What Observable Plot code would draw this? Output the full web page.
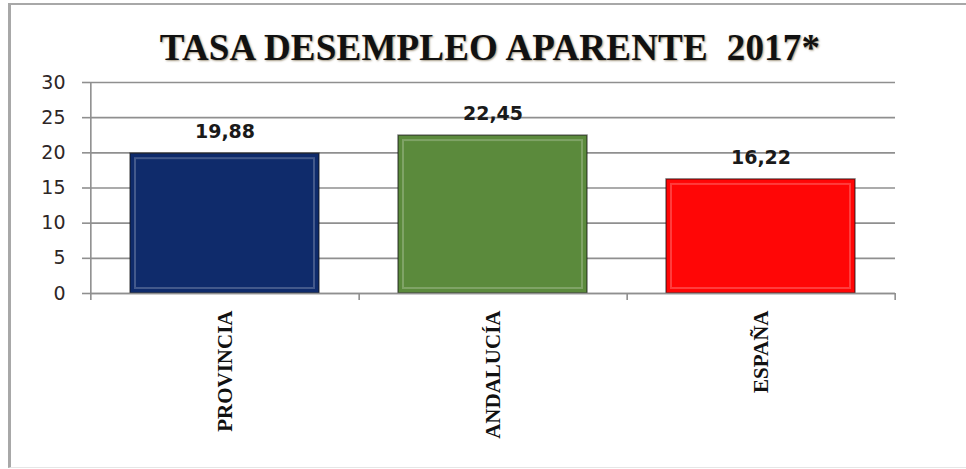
<!DOCTYPE html>
<html><head><meta charset="utf-8">
<script src="https://cdn.jsdelivr.net/npm/d3@7"></script>
<script src="https://cdn.jsdelivr.net/npm/@observablehq/plot@0.6"></script>
<style>
body{margin:0;background:#fff;overflow:hidden;}
#wrap{position:relative;width:966px;height:469px;overflow:hidden;}
#frame{position:absolute;left:8px;top:3px;width:970px;height:462px;border-left:3px solid #a8a8a8;border-top:2px solid #a8a8a8;border-bottom:1px solid #e6e6e6;box-sizing:content-box;}
#title{position:absolute;left:0;width:980px;top:26px;text-align:center;font-family:"Liberation Serif",serif;font-weight:bold;font-size:37px;letter-spacing:0.2px;color:#111;text-shadow:1px 1px 2px rgba(90,70,30,0.55);white-space:pre;}
svg{position:absolute;left:0;top:0;}
</style></head>
<body><div id="wrap"><div id="frame"></div><div id="title">TASA DESEMPLEO APARENTE  2017*</div></div>
<script>
const categories = ["PROVINCIA", "ANDALUCÍA", "ESPAÑA"];
const values = [19.88, 22.45, 16.22];
const barColors = ["#0f2b6b", "#5b8a3c", "#ff0606"];
const yTicks = [0, 5, 10, 15, 20, 25, 30];

const data = categories.map((c, i) => ({cat: c, v: values[i], col: barColors[i]}));
const fmt = v => v.toFixed(2).replace(".", ",");
const W = 966, ML = 90, MR = 71;
const step = (W - ML - MR) / categories.length;

const chart = Plot.plot({
  width: W, height: 469,
  marginLeft: ML, marginRight: MR, marginTop: 82, marginBottom: 176,
  style: {background: "transparent"},
  x: {type: "band", domain: categories, paddingInner: 0.295, paddingOuter: 0.147},
  y: {domain: [0, 30]},
  marks: [
    Plot.gridY(yTicks, {stroke: "#8f8f8f", strokeOpacity: 1, strokeWidth: 1.6}),
    Plot.axisY(yTicks, {tickSize: 8, tickPadding: 17, stroke: "#8f8f8f", strokeWidth: 1.6,
      fontSize: 19, fontFamily: "DejaVu Sans", fill: "#2e2626", label: null}),
    Plot.ruleX([0], {x: () => categories[0], dx: -step / 2, y1: 30, y2: 0, insetBottom: -7, stroke: "#8f8f8f", strokeWidth: 1.6}),
    Plot.ruleX(categories, {x: d => d, dx: step / 2, y1: 0, y2: 0, insetBottom: -7, stroke: "#8f8f8f", strokeWidth: 1.6}),
    Plot.barY(data, {x: "cat", y: "v", fill: "col", stroke: "#111", strokeOpacity: 0.55, strokeWidth: 1.5}),
    Plot.barY(data, {x: "cat", y: "v", fill: "none", stroke: "#fff", strokeOpacity: 0.22, strokeWidth: 2, inset: 5}),
    Plot.ruleY([0], {stroke: "#8f8f8f", strokeWidth: 1.6}),
    Plot.text(data, {x: "cat", y: "v", text: d => fmt(d.v), dy: -22, fontSize: 19, fontWeight: "bold",
      fontFamily: "DejaVu Sans", fill: "#1a1a1a"}),
    Plot.axisX(categories, {tickRotate: -90, tickSize: 0, tickPadding: 17, fontSize: 21, fontWeight: "bold",
      fontFamily: "Liberation Serif", fill: "#111", label: null})
  ]
});
document.getElementById("wrap").appendChild(chart);
</script></body></html>
